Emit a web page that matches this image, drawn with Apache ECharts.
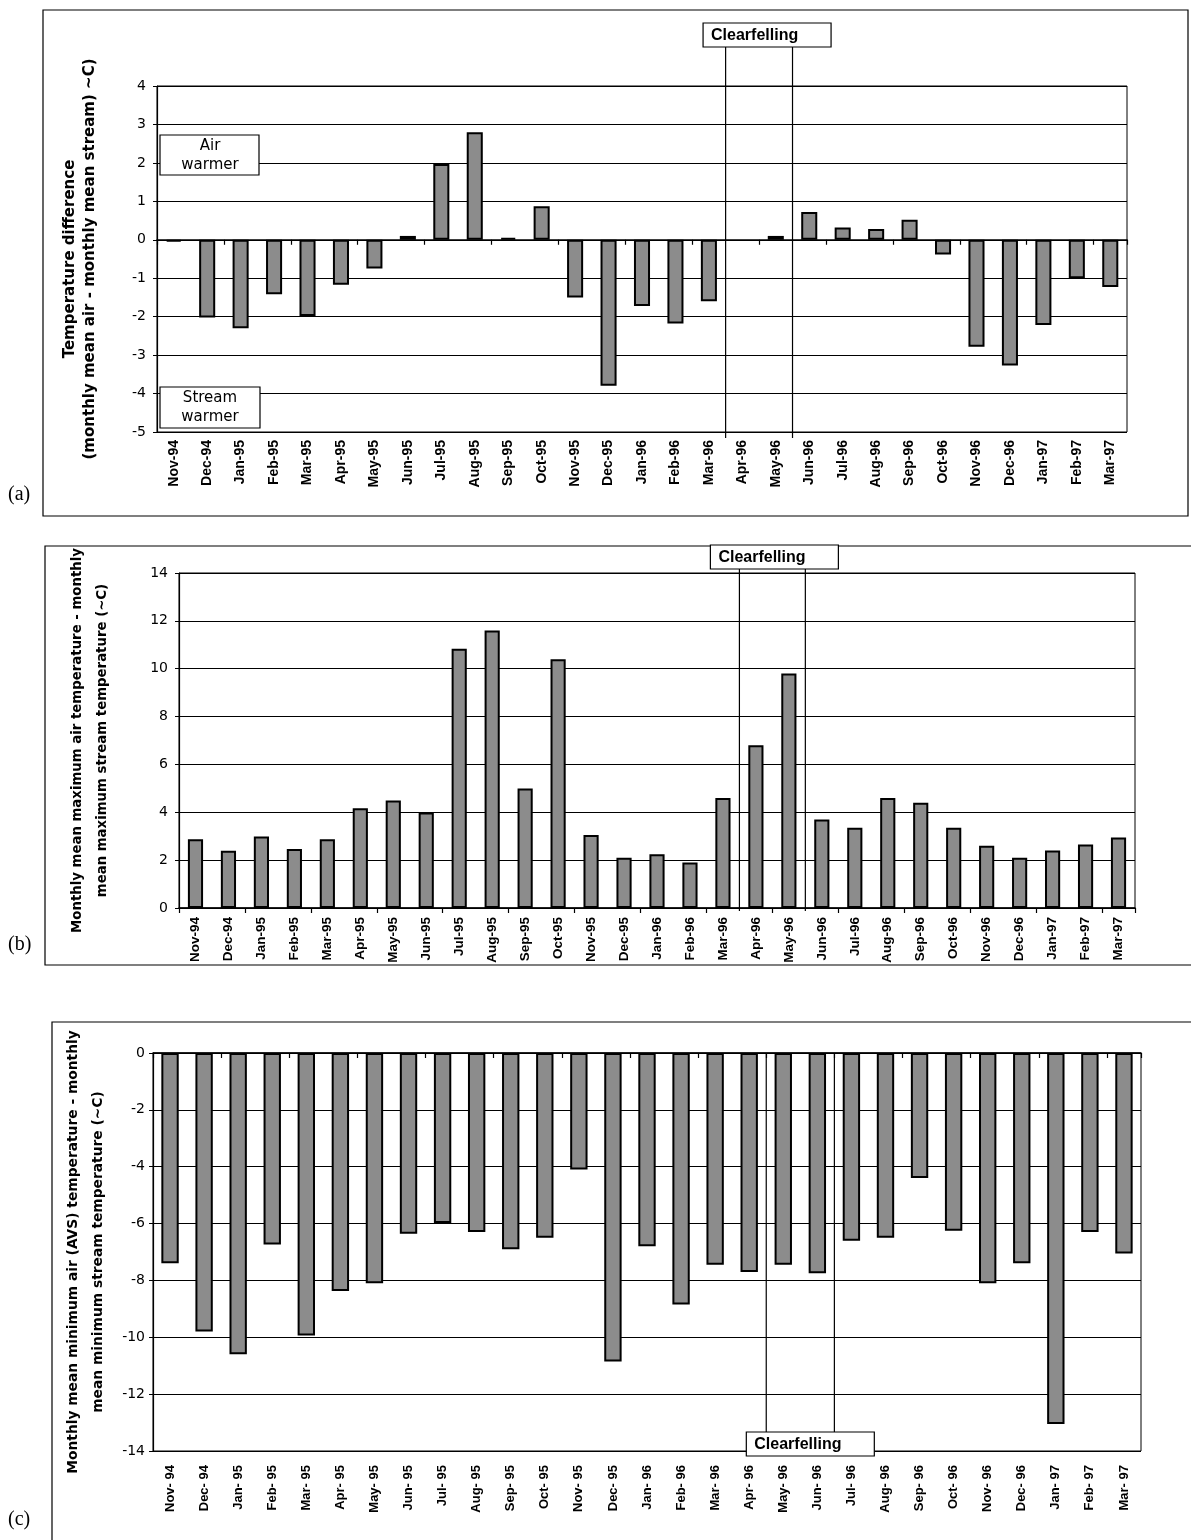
<!DOCTYPE html>
<html><head><meta charset="utf-8">
<script src="https://cdn.jsdelivr.net/npm/echarts@6/dist/echarts.min.js"></script>
<style>html,body{margin:0;padding:0;background:#fff}#c{width:1191px;height:1540px}</style>
</head><body><div id="c"></div>
<script>
const categories = ['Nov-94','Dec-94','Jan-95','Feb-95','Mar-95','Apr-95','May-95','Jun-95','Jul-95','Aug-95','Sep-95','Oct-95','Nov-95','Dec-95','Jan-96','Feb-96','Mar-96','Apr-96','May-96','Jun-96','Jul-96','Aug-96','Sep-96','Oct-96','Nov-96','Dec-96','Jan-97','Feb-97','Mar-97'];
// (a) monthly mean air - monthly mean stream
const meanDiff = [-0.05,-2.02,-2.3,-1.42,-1.98,-1.17,-0.75,0.1,1.97,2.8,0.05,0.87,-1.5,-3.8,-1.72,-2.18,-1.6,null,0.1,0.72,0.32,0.28,0.52,-0.38,-2.78,-3.27,-2.22,-1.0,-1.23];
// (b) monthly mean maximum air - monthly mean maximum stream
const maxDiff = [2.87,2.39,2.99,2.47,2.87,4.17,4.49,3.99,10.83,11.6,4.99,10.4,3.05,2.1,2.25,1.9,4.6,6.8,9.8,3.7,3.35,4.6,4.4,3.35,2.6,2.1,2.4,2.65,2.95];
// (c) monthly mean minimum air (AVS) - monthly mean minimum stream
const minDiff = [-7.4,-9.8,-10.6,-6.74,-9.94,-8.37,-8.1,-6.36,-5.98,-6.3,-6.9,-6.5,-4.1,-10.85,-6.8,-8.85,-7.45,-7.7,-7.45,-7.75,-6.6,-6.5,-4.4,-6.25,-8.1,-7.4,-13.05,-6.3,-7.05];
const yTicksA = [-5,-4,-3,-2,-1,0,1,2,3,4];
const yTicksB = [0,2,4,6,8,10,12,14];
const yTicksC = [-14,-12,-10,-8,-6,-4,-2,0];
const clearA = ['Apr-96','May-96'];
const clearB = ['Apr-96','May-96'];
const clearC = ['May-96','Jun-96'];
const nameA = 'Temperature difference\n(monthly mean air - monthly mean stream) ~C)';
const nameB = 'Monthly mean maximum air temperature - monthly\nmean maximum stream temperature (~C)';
const nameC = 'Monthly mean minimum air (AVS) temperature - monthly\nmean minimum stream temperature (~C)';

const panels = [
  {grid:{left:157,top:86,width:970,height:346}, data:meanDiff, ticks:yTicksA, bw:'48%', name:nameA, gap:57, nfs:15, nlh:20, ym:11, lm:8, lfs:14, fmt:v=>v},
  {grid:{left:179,top:573,width:956,height:335}, data:maxDiff, ticks:yTicksB, bw:'46%', name:nameB, gap:64, nfs:13.3, nlh:25, ym:11, lm:9, lfs:13.5, fmt:v=>v},
  {grid:{left:153,top:1053,width:988,height:398}, data:minDiff, ticks:yTicksC, bw:'51%', name:nameC, gap:39, nfs:13.8, nlh:25, ym:8, lm:14, lfs:13, fmt:v=>v.replace('-','- ')}
];

const chart = echarts.init(document.getElementById('c'));
const option = {animation:false, backgroundColor:'#fff', grid:[], xAxis:[], yAxis:[], series:[]};
panels.forEach((p,i)=>{
  option.grid.push(Object.assign({show:true, borderColor:'#000', borderWidth:1, backgroundColor:'transparent'}, p.grid));
  option.xAxis.push({type:'category', gridIndex:i, data:categories, position:'bottom',
    axisLine:{show:false,onZero:false}, axisTick:{show:false},
    axisLabel:{rotate:90, interval:0, margin:p.lm, fontFamily:'Liberation Sans', fontWeight:'bold', fontSize:p.lfs, color:'#000', formatter:p.fmt}});
  option.xAxis.push({type:'category', gridIndex:i, data:categories, position:'top',
    axisLine:{show:true,onZero:true,lineStyle:{color:'#000',width:1.5}},
    axisTick:{show:true,inside:true,length:5,lineStyle:{color:'#000',width:1.2}},
    axisLabel:{show:false}});
  const t = p.ticks;
  option.yAxis.push({type:'value', gridIndex:i, min:t[0], max:t[t.length-1], interval:t[1]-t[0],
    axisLine:{show:true,lineStyle:{color:'#000',width:1.2}},
    axisTick:{show:true,length:4,lineStyle:{color:'#000'}},
    axisLabel:{fontFamily:'DejaVu Sans', fontSize:14, color:'#000', margin:p.ym},
    splitLine:{show:true,lineStyle:{color:'#000',width:1}},
    name:p.name, nameLocation:'middle', nameRotate:90, nameGap:p.gap,
    nameTextStyle:{fontFamily:'DejaVu Sans', fontWeight:'bold', fontSize:p.nfs, lineHeight:p.nlh, color:'#000', align:'center'}});
  option.series.push({type:'bar', xAxisIndex:2*i, yAxisIndex:i, data:p.data, barWidth:p.bw,
    itemStyle:{color:'#8c8c8c', borderColor:'#000', borderWidth:2}});
});
chart.setOption(option);

function bounds(axisIdx, pair){
  const i0 = categories.indexOf(pair[0]), i1 = categories.indexOf(pair[1]);
  const c0 = chart.convertToPixel({xAxisIndex:axisIdx}, categories[i0]);
  const c1 = chart.convertToPixel({xAxisIndex:axisIdx}, categories[i0+1]);
  const bw = c1 - c0;
  const e1 = chart.convertToPixel({xAxisIndex:axisIdx}, categories[i1]);
  return [c0 - bw/2, e1 + bw/2];
}
const g = [];
function rect(x,y,w,h,z){ g.push({type:'rect', shape:{x,y,width:w,height:h}, style:{fill:'#fff', stroke:'#000', lineWidth:1.2}, z:z||100}); }
function line(x1,y1,x2,y2){ g.push({type:'line', shape:{x1,y1,x2,y2}, style:{stroke:'#000', lineWidth:1.2}, z:90}); }
function text(x,y,s,st){ g.push({type:'text', x, y, style:Object.assign({text:s, fill:'#000'}, st), z:110}); }
// panel frames
g.push({type:'rect', shape:{x:43,y:10,width:1145,height:506}, style:{fill:'none',stroke:'#000',lineWidth:1.2}, z:1});
g.push({type:'rect', shape:{x:45,y:546,width:1160,height:419}, style:{fill:'none',stroke:'#000',lineWidth:1.2}, z:1});
g.push({type:'rect', shape:{x:52,y:1022,width:1160,height:530}, style:{fill:'none',stroke:'#000',lineWidth:1.2}, z:1});
const serif = {font:'20px "Liberation Serif", serif', textVerticalAlign:'middle'};
text(8,495,'(a)',serif); text(8,945,'(b)',serif); text(8,1520,'(c)',serif);
// Air / Stream warmer boxes
const boxFont = {font:'15px "DejaVu Sans"', textAlign:'center', textVerticalAlign:'middle', lineHeight:19};
rect(160,135,99,40); text(210,156,'Air\nwarmer',boxFont);
rect(160,387,100,41); text(210,408,'Stream\nwarmer',boxFont);
// Clearfelling markers
const cfFont = {font:'bold 16px "Liberation Sans"', textVerticalAlign:'middle'};
function clear(axisIdx, pair, boxY, y1, y2, dx){
  const b = bounds(axisIdx, pair);
  line(b[0],y1,b[0],y2); line(b[1],y1,b[1],y2);
  const cx = (b[0]+b[1])/2 + dx;
  rect(cx-64, boxY, 128, 24);
  text(cx-56, boxY+12.5, 'Clearfelling', cfFont);
}
const yA = v=>chart.convertToPixel({yAxisIndex:0}, v);
const yB = v=>chart.convertToPixel({yAxisIndex:1}, v);
const yC = v=>chart.convertToPixel({yAxisIndex:2}, v);
clear(0,clearA,23,47,yA(-5)+6,8);
clear(2,clearB,545,569,yB(0)+3,2);
clear(4,clearC,1432,yC(0),1432,10);
chart.setOption({graphic:g});
</script></body></html>
